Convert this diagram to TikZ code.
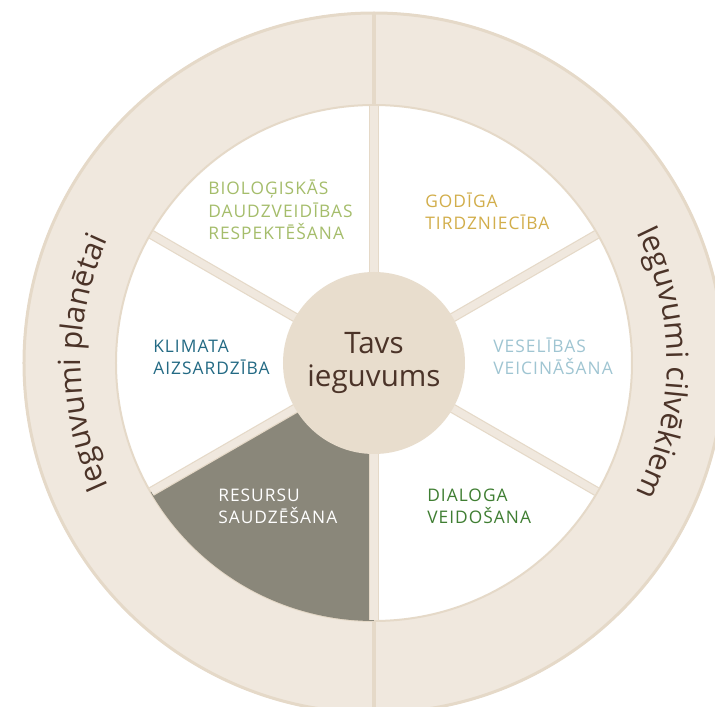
\documentclass[tikz,border=0pt]{standalone}
\usepackage{fontspec}
\setmainfont{Open Sans}
\newfontfamily\segfont[LetterSpace=6]{Open Sans}
\usepackage{xcolor}
\usepackage{tikz}
\usetikzlibrary{decorations.text}

\definecolor{ringfill}{HTML}{F0E8DE}
\definecolor{ringedge}{HTML}{E5D9C8}
\definecolor{hubfill}{HTML}{E8DDCD}
\definecolor{hubtext}{HTML}{4B3328}
\definecolor{darkseg}{HTML}{8A877A}
\definecolor{biocol}{HTML}{A5BD6B}
\definecolor{fairtrade}{HTML}{D2AE4B}
\definecolor{climate}{HTML}{236A84}
\definecolor{health}{HTML}{9FC5D2}
\definecolor{dialog}{HTML}{3F7E32}

\begin{document}
\begin{tikzpicture}[x=0.75pt,y=0.75pt,
  spoke/.style={draw=ringedge,line width=0.9pt,double=ringfill,double distance=5.4pt},
  segtext/.style={anchor=base west,align=left,inner sep=0pt,font=\segfont\fontsize{13}{16.9}\selectfont},
  hub/.style={circle,fill=hubfill,inner sep=0pt,minimum size=136.5pt,align=center,text=hubtext,font=\fontsize{22.2}{24.75}\selectfont}]
  \clip (-374,-344) rectangle (341,363);
  % outer ring and white wheel
  \fill[ringfill] (0,0) circle[radius=351];
  \draw[ringedge,line width=2.25pt] (0,0) circle[radius=350];
  \draw[ringedge,line width=1.5pt,fill=white] (0,0) circle[radius=258];
  \draw[ringedge,line width=3pt] (90:258) -- (90:351);
  \draw[ringedge,line width=3pt] (270:258) -- (270:351);
  \fill[darkseg] (0,0) -- (210:258) arc[start angle=210,end angle=270,radius=258] -- cycle;
  \foreach \a in {30,90,150,210,270,330}
    \draw[spoke] (0,0) -- (\a:257);
  \node[hub] (hub) at (0,0) {Tavs\\ieguvums};
  % sector texts (placed at the baseline of the last line)
  \node[segtext,text=biocol] (bio) at (-166,123) {BIOLO^^^^0122ISK^^^^0100S\\DAUDZVEID^^^^012aBAS\\RESPEKT^^^^0112^^^^0160ANA};
  \node[segtext,text=fairtrade] (fair) at (51,133) {GOD^^^^012aGA\\TIRDZNIEC^^^^012aBA};
  \node[segtext,text=climate] (clim) at (-221,-12) {KLIMATA\\AIZSARDZ^^^^012aBA};
  \node[segtext,text=health] (heal) at (119,-12) {VESEL^^^^012aBAS\\VEICIN^^^^0100^^^^0160ANA};
  \node[segtext,text=white] (res) at (-156,-161) {RESURSU\\SAUDZ^^^^0112^^^^0160ANA};
  \node[segtext,text=dialog] (dial) at (53,-161) {DIALOGA\\VEIDO^^^^0160ANA};
  % ring texts
  \path[decorate,decoration={text along path,text align=center,
    text={|\fontsize{22.9}{24}\selectfont\color{hubtext}|Ieguvumi planētai}}]
    (240:293) arc[start angle=240,end angle=120,radius=293];
  \path[decorate,decoration={text along path,text align=center,
    text={|\fontsize{22.9}{24}\selectfont\color{hubtext}|Ieguvumi cilvēkiem}}]
    (60:293) arc[start angle=60,end angle=-60,radius=293];
\end{tikzpicture}
\end{document}
